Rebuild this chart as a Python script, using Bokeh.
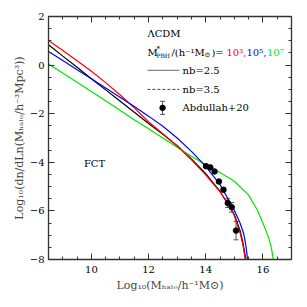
import math
from bokeh.plotting import figure
from bokeh.models import Range1d, LinearAxis, SingleIntervalTicker, Label, Whisker, ColumnDataSource, TeeHead, Title
from bokeh.embed import file_html
from bokeh.resources import INLINE

# ---------------- data ----------------
black_x = [8.5, 9, 9.5, 10, 10.5, 11, 11.5, 12, 12.5, 13, 13.5, 14, 14.5, 15, 15.2, 15.3, 15.41]
black_y = [0.84, 0.37, -0.09, -0.56, -1.02, -1.48, -1.94, -2.40, -2.85, -3.32, -3.86, -4.47, -5.2, -6.15, -6.8, -7.3, -8.05]

red_x = [8.5, 9, 9.5, 10, 10.5, 11, 11.5, 12, 12.5, 13, 13.5, 14, 14.5, 14.86, 15, 15.21, 15.3, 15.39]
red_y = [1.01, 0.60, 0.18, -0.25, -0.72, -1.22, -1.76, -2.33, -2.82, -3.33, -3.9, -4.52, -5.22, -5.85, -6.2, -6.94, -7.4, -8.05]

blue_x = [8.5, 9, 9.5, 10, 10.5, 11, 11.5, 12, 12.5, 13, 13.5, 14, 14.5, 15, 15.2, 15.33, 15.4, 15.47]
blue_y = [0.56, 0.19, -0.19, -0.56, -0.94, -1.32, -1.70, -2.10, -2.52, -3.0, -3.55, -4.17, -4.92, -5.97, -6.5, -6.94, -7.4, -8.05]

green_x = [8.5, 9, 9.5, 10, 10.5, 11, 11.5, 12, 12.5, 13, 13.5, 14, 14.5, 15, 15.5, 15.8, 16, 16.2, 16.3, 16.37]
green_y = [0.05, -0.33, -0.71, -1.09, -1.47, -1.86, -2.25, -2.62, -3.0, -3.38, -3.75, -4.1, -4.42, -4.78, -5.35, -5.95, -6.5, -7.1, -7.55, -8.05]

obs_x = [14.01, 14.16, 14.31, 14.46, 14.62, 14.77, 14.91, 15.06]
obs_y = [-4.16, -4.21, -4.38, -4.79, -5.13, -5.68, -5.85, -6.81]
obs_err = [0.04, 0.04, 0.05, 0.06, 0.08, 0.18, 0.20, 0.38]

x_ticks = [10, 12, 14, 16]
y_ticks = [2, 0, -2, -4, -6, -8]

# legend sample positions (data space)
leg_x0, leg_x1 = 11.96, 13.08
leg_rows_y = [-0.22, -1.0, -1.76]

FONT = "DejaVu Serif"

p = figure(frame_width=243, frame_height=243, output_backend="svg", toolbar_location=None,
           x_range=Range1d(8.5, 17), y_range=Range1d(-8, 2),
           min_border_left=48, min_border_bottom=48, min_border_top=16, min_border_right=16,
           x_axis_type=None, y_axis_type=None)
p.outline_line_color = None
p.xgrid.visible = False
p.ygrid.visible = False
p.background_fill_color = "white"
p.border_fill_color = "white"

def style_axis(ax, show_labels, overrides):
    ax.axis_line_color = "#333333"
    ax.axis_line_width = 1.3
    ax.major_tick_in = 6
    ax.major_tick_out = 0
    ax.minor_tick_in = 3
    ax.minor_tick_out = 0
    ax.major_tick_line_color = "#333333"
    ax.minor_tick_line_color = "#333333"
    if show_labels:
        ax.major_label_text_font = FONT
        ax.major_label_text_font_size = "10px"
        ax.major_label_text_color = "black"
        ax.major_label_overrides = overrides
    else:
        ax.major_label_text_font_size = "2px"
        ax.major_label_text_alpha = 0
        ax.major_label_standoff = 0

x_over = {t: str(t) for t in x_ticks}
y_over = {t: (str(t).replace("-", "\u2212")) for t in y_ticks}

xb = LinearAxis(ticker=SingleIntervalTicker(interval=2, num_minor_ticks=4))
style_axis(xb, True, x_over)
xb.major_label_standoff = 6
p.add_layout(xb, "below")
xt = LinearAxis(ticker=SingleIntervalTicker(interval=2, num_minor_ticks=4))
style_axis(xt, False, {})
p.add_layout(xt, "above")
yl = LinearAxis(ticker=SingleIntervalTicker(interval=2, num_minor_ticks=4))
style_axis(yl, True, y_over)
yl.major_label_standoff = 4
p.add_layout(yl, "left")
yr = LinearAxis(ticker=SingleIntervalTicker(interval=2, num_minor_ticks=4))
style_axis(yr, False, {})
p.add_layout(yr, "right")

# axis titles
tx = Title(text="Log\u2081\u2080(M\u2095\u2090\u2097\u2092/h\u207b\u00b9M\u2299)", align="center",
           text_font=FONT, text_font_size="11px", text_font_style="normal")
ty = Title(text="Log\u2081\u2080(dn/dLn(M\u2095\u2090\u2097\u2092/h\u207b\u00b3Mpc\u00b3))", align="center",
           text_font=FONT, text_font_size="11px", text_font_style="normal")
for t in (tx, ty):
    try:
        t.standoff = 2
    except Exception:
        pass
p.add_layout(tx, "below")
p.add_layout(ty, "left")

# curves
p.line(black_x, black_y, line_color="black", line_width=1.2)
p.line(green_x, green_y, line_color="#00e600", line_width=1.2)
p.line(red_x, red_y, line_color="#ff0000", line_width=1.2)
p.line(blue_x, blue_y, line_color="#0000ff", line_width=1.2)

# observations
src = ColumnDataSource(dict(x=obs_x, y=obs_y,
                            lo=[a - b for a, b in zip(obs_y, obs_err)],
                            hi=[a + b for a, b in zip(obs_y, obs_err)]))
p.add_layout(Whisker(source=src, base="x", lower="lo", upper="hi", line_color="#555555",
                     upper_head=TeeHead(size=5, line_color="#555555"),
                     lower_head=TeeHead(size=5, line_color="#555555")))
p.scatter("x", "y", source=src, size=5.5, color="black")

# legend samples
p.line([leg_x0, leg_x1], [leg_rows_y[0]] * 2, line_color="#888888", line_width=1.3)
p.line([leg_x0, leg_x1], [leg_rows_y[1]] * 2, line_color="#444444", line_width=1, line_dash="3 2")
lx = (leg_x0 + leg_x1) / 2 - 0.03
lsrc = ColumnDataSource(dict(x=[lx], y=[leg_rows_y[2]], lo=[leg_rows_y[2] - 0.27], hi=[leg_rows_y[2] + 0.27]))
p.add_layout(Whisker(source=lsrc, base="x", lower="lo", upper="hi", line_color="#555555",
                     upper_head=TeeHead(size=5, line_color="#555555"),
                     lower_head=TeeHead(size=5, line_color="#555555")))
p.scatter("x", "y", source=lsrc, size=5.5, color="black")

def lab(x, y, text, size="10px", color="black", xo=0, yo=0, align="left", base="middle", angle=0):
    p.add_layout(Label(x=x, y=y, text=text, text_font=FONT, text_font_size=size,
                       text_color=color, x_offset=xo, y_offset=yo, text_align=align,
                       text_baseline=base, angle=angle))

lab(leg_x0, 1.30, "\u039bCDM")
ym = 0.52
lab(leg_x0, ym, "M")
lab(leg_x0, ym, "*", size="7px", xo=9, yo=3.5)
lab(leg_x0, ym, "PBH", size="6px", xo=9, yo=-3)
lab(leg_x0, ym, "/(h\u207b\u00b9M", xo=24)
lab(leg_x0, ym, "\u2299", size="7px", xo=57, yo=-3)
lab(leg_x0, ym, ")=", xo=64)
lab(leg_x0, ym, "10\u00b3,", color="#ff0000", xo=79)
lab(leg_x0, ym, "10\u2075,", color="#0000ff", xo=99)
lab(leg_x0, ym, "10\u2077", color="#00e600", xo=119.5)
lab(13.19, leg_rows_y[0], "nb=2.5")
lab(13.19, leg_rows_y[1], "nb=3.5")
lab(13.19, leg_rows_y[2], "Abdullah+20")
lab(10.11, -4.05, "FCT", align="center")

open("out.html", "w").write(file_html(p, INLINE))
